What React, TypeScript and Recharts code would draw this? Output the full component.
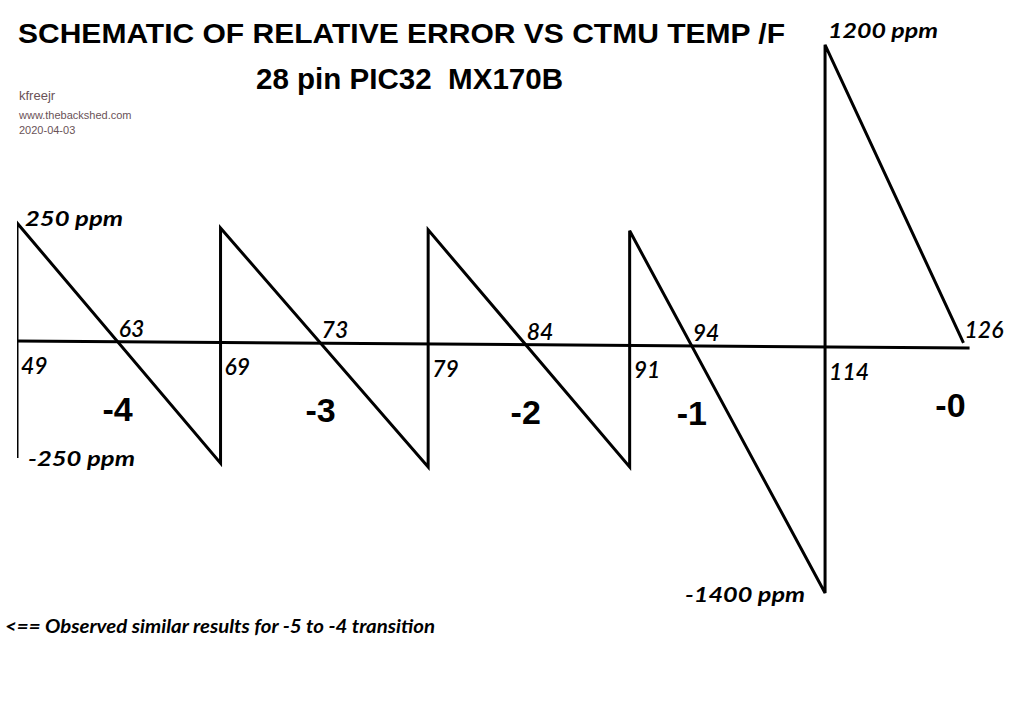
import React from 'react';
import { ComposedChart, Line, XAxis, YAxis, ReferenceDot } from 'recharts';

// Schematic positions (segment units) and drawn error heights (schematic ppm units)
const breakX = [0, 1.0, 2.02, 3.01, 3.97];
const peakY = [252, 241, 237, 235, 632];
const troughY = [-250, -261, -269, -269, -538];
const endX = 4.65;
const endY = -4;
const baseX = [-0.01, 4.68];
const baseY = [0, -15];

const jumpTemps = ['49', '69', '79', '91', '114'];
const zeroTemps = ['63', '73', '84', '94', '126'];
const stepLabels = ['-4', '-3', '-2', '-1', '-0'];
const ppmLabels = ['250 ppm', '-250 ppm', '1200 ppm', '-1400 ppm'];

const titleText = 'SCHEMATIC OF RELATIVE ERROR VS CTMU TEMP /F';
const subtitleText = '28 pin PIC32  MX170B';
const creditLines = ['kfreejr', 'www.thebackshed.com', '2020-04-03'];
const footnote = '<== Observed similar results for -5 to -4 transition';

const sawData: { x: number; y: number }[] = [];
breakX.forEach((x, i) => {
  sawData.push({ x, y: troughY[i] });
  sawData.push({ x, y: peakY[i] });
});
sawData.push({ x: endX, y: endY });

const baseData = baseX.map((x, i) => ({ x, y: baseY[i] }));

const baseAt = (x: number) =>
  baseY[0] + ((x - baseX[0]) * (baseY[1] - baseY[0])) / (baseX[1] - baseX[0]);

const crossX = breakX.slice(0, -1).map((x0, i) => {
  const x1 = breakX[i + 1];
  const f0 = peakY[i] - baseAt(x0);
  const f1 = troughY[i + 1] - baseAt(x1);
  return x0 + (f0 / (f0 - f1)) * (x1 - x0);
});
const zeroPts = [...crossX.map((x) => ({ x, y: baseAt(x) })), { x: endX, y: endY }];
const jumpPts = breakX.map((x) => ({ x, y: baseAt(x) }));

const handFont: React.CSSProperties = {
  fontFamily: 'Lato, "Open Sans", sans-serif',
  fontStyle: 'italic',
  fontWeight: 700,
};
const numFont: React.CSSProperties = {
  fontFamily: 'Lato, "Open Sans", sans-serif',
  fontStyle: 'italic',
  fontWeight: 600,
  fontSize: 23,
};
const arialBold: React.CSSProperties = {
  fontFamily: '"Liberation Sans", Arial, sans-serif',
  fontWeight: 700,
  whiteSpace: 'pre',
};

const textShape =
  (label: string, dx: number, dy: number, style: React.CSSProperties, extra: any = {}) =>
  (p: any) =>
    (
      <text x={p.cx + dx} y={p.cy + dy} fill="#000" style={style} {...extra}>
        {label}
      </text>
    );

export default function App() {
  return (
    <div
      style={{
        position: 'absolute',
        left: 0,
        top: 0,
        width: 1024,
        height: 723,
        background: '#fff',
        overflow: 'hidden',
      }}
    >
      <ComposedChart
        width={1024}
        height={723}
        margin={{ top: 13, right: 30, bottom: 101, left: 17 }}
      >
        <XAxis type="number" dataKey="x" domain={[0, 4.8]} hide allowDataOverflow />
        <YAxis type="number" dataKey="y" domain={[-600, 700]} hide allowDataOverflow />
        <Line
          data={baseData}
          dataKey="y"
          type="linear"
          stroke="#000"
          strokeWidth={3}
          dot={false}
          activeDot={false}
          isAnimationActive={false}
        />
        <Line
          data={sawData}
          dataKey="y"
          type="linear"
          stroke="#000"
          strokeWidth={3}
          dot={false}
          activeDot={false}
          isAnimationActive={false}
        />
        {jumpPts.map((pt, i) => (
          <ReferenceDot
            key={'j' + i}
            x={pt.x}
            y={pt.y}
            r={0}
            ifOverflow="visible"
            shape={textShape(jumpTemps[i], 4, 33, numFont)}
          />
        ))}
        {zeroPts.map((pt, i) => (
          <ReferenceDot
            key={'z' + i}
            x={pt.x}
            y={pt.y}
            r={0}
            ifOverflow="visible"
            shape={textShape(zeroTemps[i], 1, -5, numFont)}
          />
        ))}
        {zeroPts.map((pt, i) => (
          <ReferenceDot
            key={'s' + i}
            x={pt.x}
            y={pt.y}
            r={0}
            ifOverflow="visible"
            shape={textShape(
              stepLabels[i],
              i === zeroPts.length - 1 ? -13 : 0,
              i === zeroPts.length - 1 ? 74 : 79,
              { ...arialBold, fontSize: 34 },
              { textAnchor: 'middle' }
            )}
          />
        ))}
        <ReferenceDot
          x={breakX[0]}
          y={peakY[0]}
          r={0}
          ifOverflow="visible"
          shape={textShape(ppmLabels[0], 8, 3, { ...handFont, fontSize: 20 }, { textLength: 98, lengthAdjust: 'spacingAndGlyphs' })}
        />
        <ReferenceDot
          x={breakX[0]}
          y={troughY[0]}
          r={0}
          ifOverflow="visible"
          shape={textShape(ppmLabels[1], 11, 8, { ...handFont, fontSize: 20 }, { textLength: 107, lengthAdjust: 'spacingAndGlyphs' })}
        />
        <ReferenceDot
          x={breakX[4]}
          y={peakY[4]}
          r={0}
          ifOverflow="visible"
          shape={textShape(ppmLabels[2], 3, -7, { ...handFont, fontSize: 20 }, { textLength: 110, lengthAdjust: 'spacingAndGlyphs' })}
        />
        <ReferenceDot
          x={breakX[4]}
          y={troughY[4]}
          r={0}
          ifOverflow="visible"
          shape={textShape(ppmLabels[3], -20, 9, { ...handFont, fontSize: 20 }, { textLength: 120, lengthAdjust: 'spacingAndGlyphs', textAnchor: 'end' })}
        />
      </ComposedChart>
      <svg
        width={1024}
        height={723}
        style={{ position: 'absolute', left: 0, top: 0, pointerEvents: 'none' }}
      >
        <text x={18} y={43} style={{ ...arialBold, fontSize: 28 }} fill="#000" textLength={767} lengthAdjust="spacingAndGlyphs">
          {titleText}
        </text>
        <text x={256} y={89} style={{ ...arialBold, fontSize: 29 }} fill="#000" textLength={307} lengthAdjust="spacingAndGlyphs">
          {subtitleText}
        </text>
        <text x={19} y={100} style={{ fontFamily: '"Liberation Sans", Arial, sans-serif', fontSize: 13 }} fill="#6a5257">
          {creditLines[0]}
        </text>
        <text x={19} y={119} style={{ fontFamily: '"Liberation Sans", Arial, sans-serif', fontSize: 11 }} fill="#6a5257">
          {creditLines[1]}
        </text>
        <text x={19} y={134} style={{ fontFamily: '"Liberation Sans", Arial, sans-serif', fontSize: 11 }} fill="#6a5257">
          {creditLines[2]}
        </text>
        <text x={5} y={633} style={{ ...handFont, fontSize: 19 }} fill="#000" textLength={430} lengthAdjust="spacingAndGlyphs">
          {footnote}
        </text>
      </svg>
    </div>
  );
}
